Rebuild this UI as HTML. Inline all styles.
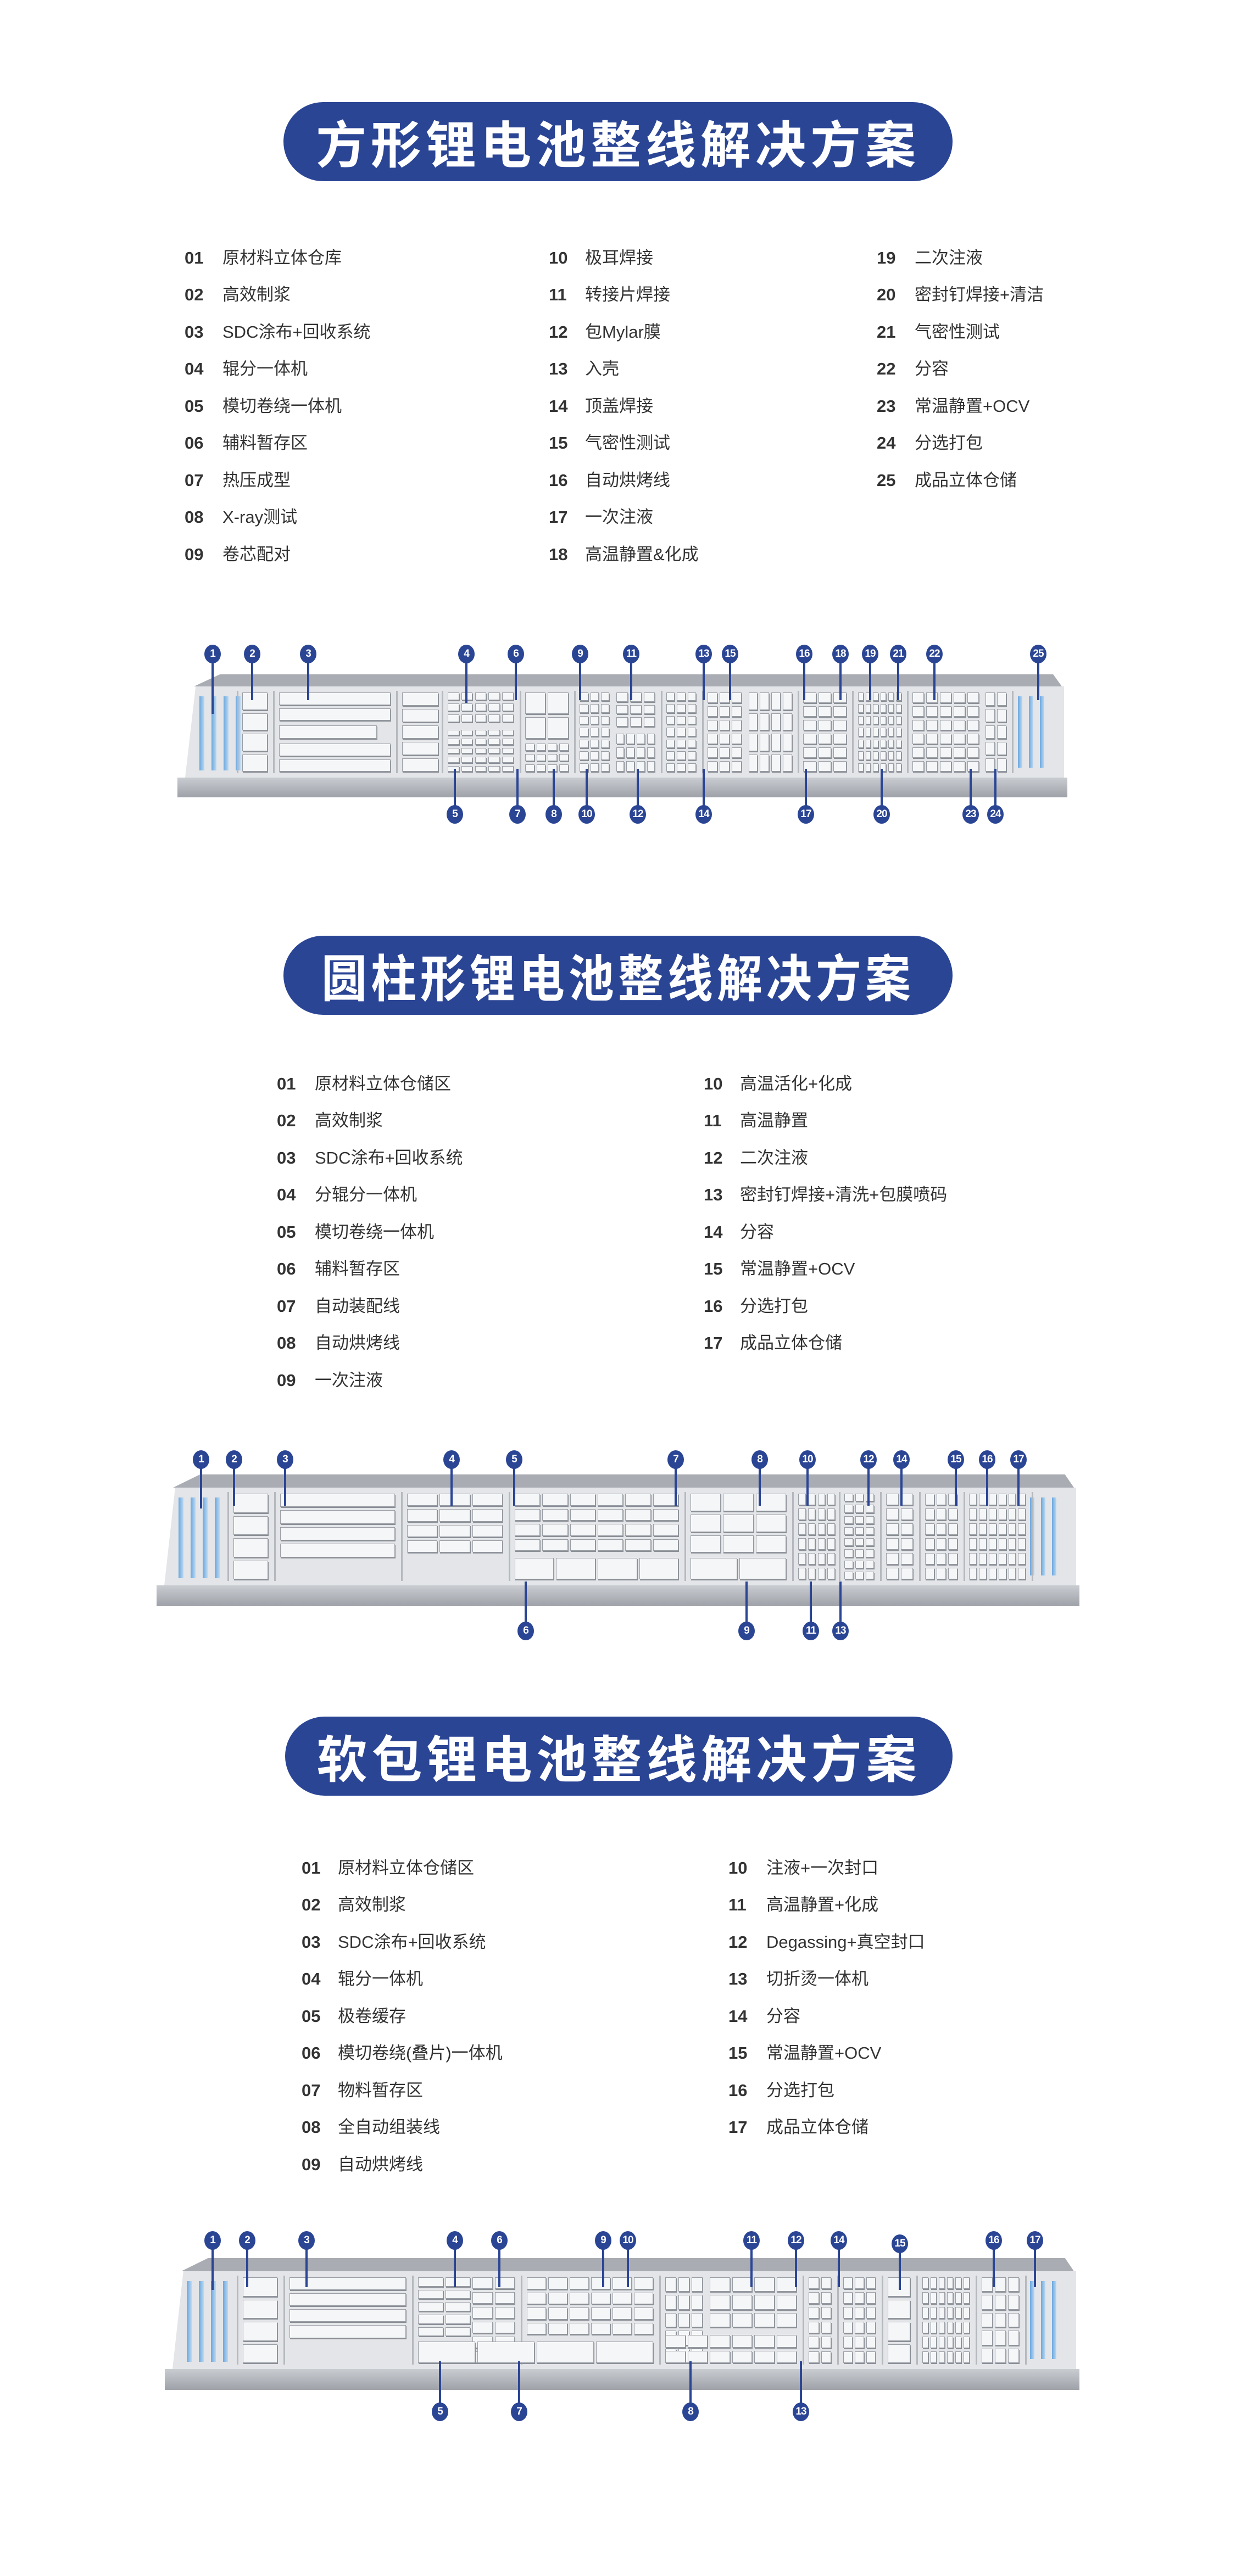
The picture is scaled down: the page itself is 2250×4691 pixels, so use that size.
<!DOCTYPE html>
<html><head><meta charset="utf-8">
<style>
body{margin:0;width:2250px;height:4691px;background:#fff;position:relative;overflow:hidden;font-family:"Liberation Sans","Noto Sans CJK SC",sans-serif}
.pill{position:absolute;background:#2b4595;border-radius:75px;color:#fff;font-weight:bold;font-size:92px;text-align:center;line-height:144px;font-family:"Noto Sans CJK SC",sans-serif}
.pill span{display:inline-block;letter-spacing:8px;white-space:nowrap}
.it{position:absolute;font-size:31px;color:#333;line-height:40px;white-space:nowrap}
.it b{position:absolute;left:0;font-weight:bold;font-family:"Liberation Sans",sans-serif;color:#333}
.it span{position:absolute;white-space:nowrap;font-family:"Liberation Sans","Noto Sans CJK SC",sans-serif}
.plat{position:absolute}
.back{position:absolute;background:#a9adb3}
.floor{position:absolute;background:#e3e5e8}
.lip{position:absolute;background:linear-gradient(#c9ccd1,#9ea2a8)}
.m{position:absolute;width:30px;height:34px;margin-left:-15px;border-radius:50%;background:#2b4595;color:#fff;font-size:19px;font-weight:bold;text-align:center;line-height:34px;z-index:3;font-family:"Liberation Sans",sans-serif;letter-spacing:-1px}
.ln{position:absolute;width:4px;margin-left:-2px;background:#2b4595;z-index:2}
.bx{position:absolute;background:#f5f6f7;border:1px solid #9a9ea5;box-shadow:1px 2px 0 #8a8e95}
.rack{position:absolute;background:linear-gradient(90deg,#6aa7de,#bcd9f2);}
.sep{position:absolute;background:#b5b8bd;width:3px}
</style></head><body>

<div class="pill" style="left:516px;top:186px;width:1218px;height:144px"><span>方形锂电池整线解决方案</span></div>
<div class="pill" style="left:516px;top:1704px;width:1218px;height:144px"><span style="transform:scaleX(0.9)">圆柱形锂电池整线解决方案</span></div>
<div class="pill" style="left:519px;top:3126px;width:1215px;height:144px"><span>软包锂电池整线解决方案</span></div>

<!-- list 1 -->
<div class="it" style="left:336px;top:450px"><b>01</b><span style="left:69px">原材料立体仓库</span></div>
<div class="it" style="left:336px;top:517px"><b>02</b><span style="left:69px">高效制浆</span></div>
<div class="it" style="left:336px;top:585px"><b>03</b><span style="left:69px">SDC涂布+回收系统</span></div>
<div class="it" style="left:336px;top:652px"><b>04</b><span style="left:69px">辊分一体机</span></div>
<div class="it" style="left:336px;top:720px"><b>05</b><span style="left:69px">模切卷绕一体机</span></div>
<div class="it" style="left:336px;top:787px"><b>06</b><span style="left:69px">辅料暂存区</span></div>
<div class="it" style="left:336px;top:855px"><b>07</b><span style="left:69px">热压成型</span></div>
<div class="it" style="left:336px;top:922px"><b>08</b><span style="left:69px">X-ray测试</span></div>
<div class="it" style="left:336px;top:990px"><b>09</b><span style="left:69px">卷芯配对</span></div>

<div class="it" style="left:999px;top:450px"><b>10</b><span style="left:66px">极耳焊接</span></div>
<div class="it" style="left:999px;top:517px"><b>11</b><span style="left:66px">转接片焊接</span></div>
<div class="it" style="left:999px;top:585px"><b>12</b><span style="left:66px">包Mylar膜</span></div>
<div class="it" style="left:999px;top:652px"><b>13</b><span style="left:66px">入壳</span></div>
<div class="it" style="left:999px;top:720px"><b>14</b><span style="left:66px">顶盖焊接</span></div>
<div class="it" style="left:999px;top:787px"><b>15</b><span style="left:66px">气密性测试</span></div>
<div class="it" style="left:999px;top:855px"><b>16</b><span style="left:66px">自动烘烤线</span></div>
<div class="it" style="left:999px;top:922px"><b>17</b><span style="left:66px">一次注液</span></div>
<div class="it" style="left:999px;top:990px"><b>18</b><span style="left:66px">高温静置&amp;化成</span></div>

<div class="it" style="left:1596px;top:450px"><b>19</b><span style="left:69px">二次注液</span></div>
<div class="it" style="left:1596px;top:517px"><b>20</b><span style="left:69px">密封钉焊接+清洁</span></div>
<div class="it" style="left:1596px;top:585px"><b>21</b><span style="left:69px">气密性测试</span></div>
<div class="it" style="left:1596px;top:652px"><b>22</b><span style="left:69px">分容</span></div>
<div class="it" style="left:1596px;top:720px"><b>23</b><span style="left:69px">常温静置+OCV</span></div>
<div class="it" style="left:1596px;top:787px"><b>24</b><span style="left:69px">分选打包</span></div>
<div class="it" style="left:1596px;top:855px"><b>25</b><span style="left:69px">成品立体仓储</span></div>

<!-- list 2 -->
<div class="it" style="left:504px;top:1954px"><b>01</b><span style="left:69px">原材料立体仓储区</span></div>
<div class="it" style="left:504px;top:2021px"><b>02</b><span style="left:69px">高效制浆</span></div>
<div class="it" style="left:504px;top:2089px"><b>03</b><span style="left:69px">SDC涂布+回收系统</span></div>
<div class="it" style="left:504px;top:2156px"><b>04</b><span style="left:69px">分辊分一体机</span></div>
<div class="it" style="left:504px;top:2224px"><b>05</b><span style="left:69px">模切卷绕一体机</span></div>
<div class="it" style="left:504px;top:2291px"><b>06</b><span style="left:69px">辅料暂存区</span></div>
<div class="it" style="left:504px;top:2359px"><b>07</b><span style="left:69px">自动装配线</span></div>
<div class="it" style="left:504px;top:2426px"><b>08</b><span style="left:69px">自动烘烤线</span></div>
<div class="it" style="left:504px;top:2494px"><b>09</b><span style="left:69px">一次注液</span></div>

<div class="it" style="left:1281px;top:1954px"><b>10</b><span style="left:66px">高温活化+化成</span></div>
<div class="it" style="left:1281px;top:2021px"><b>11</b><span style="left:66px">高温静置</span></div>
<div class="it" style="left:1281px;top:2089px"><b>12</b><span style="left:66px">二次注液</span></div>
<div class="it" style="left:1281px;top:2156px"><b>13</b><span style="left:66px">密封钉焊接+清洗+包膜喷码</span></div>
<div class="it" style="left:1281px;top:2224px"><b>14</b><span style="left:66px">分容</span></div>
<div class="it" style="left:1281px;top:2291px"><b>15</b><span style="left:66px">常温静置+OCV</span></div>
<div class="it" style="left:1281px;top:2359px"><b>16</b><span style="left:66px">分选打包</span></div>
<div class="it" style="left:1281px;top:2426px"><b>17</b><span style="left:66px">成品立体仓储</span></div>

<!-- list 3 -->
<div class="it" style="left:549px;top:3382px"><b>01</b><span style="left:66px">原材料立体仓储区</span></div>
<div class="it" style="left:549px;top:3449px"><b>02</b><span style="left:66px">高效制浆</span></div>
<div class="it" style="left:549px;top:3517px"><b>03</b><span style="left:66px">SDC涂布+回收系统</span></div>
<div class="it" style="left:549px;top:3584px"><b>04</b><span style="left:66px">辊分一体机</span></div>
<div class="it" style="left:549px;top:3652px"><b>05</b><span style="left:66px">极卷缓存</span></div>
<div class="it" style="left:549px;top:3719px"><b>06</b><span style="left:66px">模切卷绕(叠片)一体机</span></div>
<div class="it" style="left:549px;top:3787px"><b>07</b><span style="left:66px">物料暂存区</span></div>
<div class="it" style="left:549px;top:3854px"><b>08</b><span style="left:66px">全自动组装线</span></div>
<div class="it" style="left:549px;top:3922px"><b>09</b><span style="left:66px">自动烘烤线</span></div>

<div class="it" style="left:1326px;top:3382px"><b>10</b><span style="left:69px">注液+一次封口</span></div>
<div class="it" style="left:1326px;top:3449px"><b>11</b><span style="left:69px">高温静置+化成</span></div>
<div class="it" style="left:1326px;top:3517px"><b>12</b><span style="left:69px">Degassing+真空封口</span></div>
<div class="it" style="left:1326px;top:3584px"><b>13</b><span style="left:69px">切折烫一体机</span></div>
<div class="it" style="left:1326px;top:3652px"><b>14</b><span style="left:69px">分容</span></div>
<div class="it" style="left:1326px;top:3719px"><b>15</b><span style="left:69px">常温静置+OCV</span></div>
<div class="it" style="left:1326px;top:3787px"><b>16</b><span style="left:69px">分选打包</span></div>
<div class="it" style="left:1326px;top:3854px"><b>17</b><span style="left:69px">成品立体仓储</span></div>

<!-- platforms -->
<div id="p1" class="plat" style="left:323px;top:1228px;width:1620px;height:224px"></div>
<div id="p2" class="plat" style="left:285px;top:2685px;width:1680px;height:240px"></div>
<div id="p3" class="plat" style="left:300px;top:4112px;width:1665px;height:240px"></div>

<!-- markers diagram 1 -->
<div class="m" style="left:387px;top:1174px">1</div><div class="ln" style="left:387px;top:1200px;height:100px"></div>
<div class="m" style="left:459px;top:1174px">2</div><div class="ln" style="left:459px;top:1200px;height:75px"></div>
<div class="m" style="left:561px;top:1174px">3</div><div class="ln" style="left:561px;top:1200px;height:75px"></div>
<div class="m" style="left:849px;top:1174px">4</div><div class="ln" style="left:849px;top:1200px;height:80px"></div>
<div class="m" style="left:939px;top:1174px">6</div><div class="ln" style="left:939px;top:1200px;height:75px"></div>
<div class="m" style="left:1056px;top:1174px">9</div><div class="ln" style="left:1056px;top:1200px;height:75px"></div>
<div class="m" style="left:1149px;top:1174px">11</div><div class="ln" style="left:1149px;top:1200px;height:75px"></div>
<div class="m" style="left:1281px;top:1174px">13</div><div class="ln" style="left:1281px;top:1200px;height:75px"></div>
<div class="m" style="left:1329px;top:1174px">15</div><div class="ln" style="left:1329px;top:1200px;height:75px"></div>
<div class="m" style="left:1464px;top:1174px">16</div><div class="ln" style="left:1464px;top:1200px;height:75px"></div>
<div class="m" style="left:1530px;top:1174px">18</div><div class="ln" style="left:1530px;top:1200px;height:75px"></div>
<div class="m" style="left:1584px;top:1174px">19</div><div class="ln" style="left:1584px;top:1200px;height:75px"></div>
<div class="m" style="left:1635px;top:1174px">21</div><div class="ln" style="left:1635px;top:1200px;height:75px"></div>
<div class="m" style="left:1701px;top:1174px">22</div><div class="ln" style="left:1701px;top:1200px;height:75px"></div>
<div class="m" style="left:1890px;top:1174px">25</div><div class="ln" style="left:1890px;top:1200px;height:75px"></div>

<div class="m" style="left:828px;top:1466px">5</div><div class="ln" style="left:828px;top:1400px;height:70px"></div>
<div class="m" style="left:942px;top:1466px">7</div><div class="ln" style="left:942px;top:1400px;height:70px"></div>
<div class="m" style="left:1008px;top:1466px">8</div><div class="ln" style="left:1008px;top:1400px;height:70px"></div>
<div class="m" style="left:1068px;top:1466px">10</div><div class="ln" style="left:1068px;top:1400px;height:70px"></div>
<div class="m" style="left:1161px;top:1466px">12</div><div class="ln" style="left:1161px;top:1400px;height:70px"></div>
<div class="m" style="left:1281px;top:1466px">14</div><div class="ln" style="left:1281px;top:1400px;height:70px"></div>
<div class="m" style="left:1467px;top:1466px">17</div><div class="ln" style="left:1467px;top:1400px;height:70px"></div>
<div class="m" style="left:1605px;top:1466px">20</div><div class="ln" style="left:1605px;top:1400px;height:70px"></div>
<div class="m" style="left:1767px;top:1466px">23</div><div class="ln" style="left:1767px;top:1400px;height:70px"></div>
<div class="m" style="left:1812px;top:1466px">24</div><div class="ln" style="left:1812px;top:1400px;height:70px"></div>

<!-- markers diagram 2 -->
<div class="m" style="left:366px;top:2641px">1</div><div class="ln" style="left:366px;top:2667px;height:80px"></div>
<div class="m" style="left:426px;top:2641px">2</div><div class="ln" style="left:426px;top:2667px;height:75px"></div>
<div class="m" style="left:519px;top:2641px">3</div><div class="ln" style="left:519px;top:2667px;height:75px"></div>
<div class="m" style="left:822px;top:2641px">4</div><div class="ln" style="left:822px;top:2667px;height:75px"></div>
<div class="m" style="left:936px;top:2641px">5</div><div class="ln" style="left:936px;top:2667px;height:75px"></div>
<div class="m" style="left:1230px;top:2641px">7</div><div class="ln" style="left:1230px;top:2667px;height:75px"></div>
<div class="m" style="left:1383px;top:2641px">8</div><div class="ln" style="left:1383px;top:2667px;height:75px"></div>
<div class="m" style="left:1470px;top:2641px">10</div><div class="ln" style="left:1470px;top:2667px;height:75px"></div>
<div class="m" style="left:1581px;top:2641px">12</div><div class="ln" style="left:1581px;top:2667px;height:75px"></div>
<div class="m" style="left:1641px;top:2641px">14</div><div class="ln" style="left:1641px;top:2667px;height:75px"></div>
<div class="m" style="left:1740px;top:2641px">15</div><div class="ln" style="left:1740px;top:2667px;height:75px"></div>
<div class="m" style="left:1797px;top:2641px">16</div><div class="ln" style="left:1797px;top:2667px;height:75px"></div>
<div class="m" style="left:1854px;top:2641px">17</div><div class="ln" style="left:1854px;top:2667px;height:75px"></div>

<div class="m" style="left:957px;top:2953px">6</div><div class="ln" style="left:957px;top:2880px;height:75px"></div>
<div class="m" style="left:1359px;top:2953px">9</div><div class="ln" style="left:1359px;top:2880px;height:75px"></div>
<div class="m" style="left:1476px;top:2953px">11</div><div class="ln" style="left:1476px;top:2880px;height:75px"></div>
<div class="m" style="left:1530px;top:2953px">13</div><div class="ln" style="left:1530px;top:2880px;height:75px"></div>

<!-- markers diagram 3 -->
<div class="m" style="left:387px;top:4063px">1</div><div class="ln" style="left:387px;top:4090px;height:80px"></div>
<div class="m" style="left:450px;top:4063px">2</div><div class="ln" style="left:450px;top:4090px;height:75px"></div>
<div class="m" style="left:558px;top:4063px">3</div><div class="ln" style="left:558px;top:4090px;height:75px"></div>
<div class="m" style="left:828px;top:4063px">4</div><div class="ln" style="left:828px;top:4090px;height:75px"></div>
<div class="m" style="left:909px;top:4063px">6</div><div class="ln" style="left:909px;top:4090px;height:75px"></div>
<div class="m" style="left:1098px;top:4063px">9</div><div class="ln" style="left:1098px;top:4090px;height:75px"></div>
<div class="m" style="left:1143px;top:4063px">10</div><div class="ln" style="left:1143px;top:4090px;height:75px"></div>
<div class="m" style="left:1368px;top:4063px">11</div><div class="ln" style="left:1368px;top:4090px;height:75px"></div>
<div class="m" style="left:1449px;top:4063px">12</div><div class="ln" style="left:1449px;top:4090px;height:75px"></div>
<div class="m" style="left:1527px;top:4063px">14</div><div class="ln" style="left:1527px;top:4090px;height:75px"></div>
<div class="m" style="left:1638px;top:4069px">15</div><div class="ln" style="left:1638px;top:4095px;height:75px"></div>
<div class="m" style="left:1809px;top:4063px">16</div><div class="ln" style="left:1809px;top:4090px;height:75px"></div>
<div class="m" style="left:1884px;top:4063px">17</div><div class="ln" style="left:1884px;top:4090px;height:75px"></div>

<div class="m" style="left:801px;top:4375px">5</div><div class="ln" style="left:801px;top:4300px;height:80px"></div>
<div class="m" style="left:945px;top:4375px">7</div><div class="ln" style="left:945px;top:4300px;height:80px"></div>
<div class="m" style="left:1257px;top:4375px">8</div><div class="ln" style="left:1257px;top:4300px;height:80px"></div>
<div class="m" style="left:1458px;top:4375px">13</div><div class="ln" style="left:1458px;top:4300px;height:80px"></div>

<script>
function plat(id,k,cfg){
  var p=document.getElementById(id),W=p.offsetWidth,H=p.offsetHeight,h='';
  var lipH=Math.round(H*0.16), floorTop=Math.round(H*0.10);
  h+='<div class="back" style="left:30px;top:0;width:'+(W-40)+'px;height:'+floorTop+'px;clip-path:polygon(0 100%,3% 0,99% 0,100% 100%)"></div>';
  h+='<div class="floor" style="left:14px;top:'+floorTop+'px;width:'+(W-20)+'px;height:'+(H-lipH-floorTop)+'px;clip-path:polygon(1.2% 0,100% 0,100% 100%,0 100%)"></div>';
  h+='<div class="lip" style="left:0;top:'+(H-lipH)+'px;width:'+W+'px;height:'+lipH+'px"></div>';
  var fy=floorTop+8, fh=H-lipH-floorTop-16;
  for(var i=0;i<4;i++) h+='<div class="rack" style="left:'+(40+i*22)+'px;top:'+(fy+10)+'px;width:9px;height:'+(fh-15)+'px"></div>';
  for(var i=0;i<3;i++) h+='<div class="rack" style="left:'+(W-90+i*20)+'px;top:'+(fy+10)+'px;width:8px;height:'+(fh-20)+'px"></div>';
  cfg.seps.forEach(function(x){h+='<div class="sep" style="left:'+(x*k)+'px;top:'+fy+'px;height:'+fh+'px"></div>';});
  cfg.boxes.forEach(function(b){
    var x0=b[0]*k,x1=b[1]*k,cols=b[2],rows=b[3],y0=b[4]||0,y1=b[5]||1;
    var bw=(x1-x0)/cols, bh=fh*(y1-y0)/rows;
    for(var r=0;r<rows;r++)for(var c=0;c<cols;c++)
      h+='<div class="bx" style="left:'+(x0+c*bw+2)+'px;top:'+(fy+fh*y0+r*bh+3)+'px;width:'+Math.max(3,bw-6)+'px;height:'+Math.max(3,bh-8)+'px"></div>';
  });
  p.innerHTML=h;
}
plat('p1',0.83,{seps:[130,210,480,580,750,870,1060,1150,1360,1480,1600,1830],boxes:[
 [140,200,1,4],[220,470,1,2,0,0.38],[220,470,1,2,0.62,1],[220,440,1,1,0.4,0.6],
 [490,575,1,5],[590,740,5,3,0,0.4],[590,740,5,5,0.45,1],
 [760,860,2,2,0,0.6],[760,860,4,3,0.62,1],
 [880,950,3,7],[960,1050,3,3,0,0.45],[960,1050,4,3,0.5,1],
 [1070,1140,3,7],[1160,1240,3,6],[1250,1350,4,4],[1370,1470,3,6],
 [1490,1590,6,7],[1610,1760,5,6],[1770,1820,2,5]]});
plat('p2',0.89,{seps:[145,240,500,720,1080,1300,1395,1480,1560,1650,1790],boxes:[
 [155,230,1,4],[250,490,1,4,0,0.75],
 [510,710,3,4,0,0.7],[730,1070,4,1,0.72,1],[730,1070,6,4,0,0.68],
 [1090,1290,3,3,0,0.7],[1090,1290,2,1,0.72,1],
 [1310,1390,4,6],[1405,1470,3,8],[1490,1550,2,6],[1570,1640,3,6],[1660,1780,6,6]]});
plat('p3',0.9,{seps:[145,240,500,720,1000,1290,1360,1450,1520,1640,1740],boxes:[
 [155,230,1,4],[250,490,1,4,0,0.72],
 [510,620,2,5,0,0.7],[620,710,2,6],[510,990,4,1,0.72,1],[730,990,6,4,0,0.68],
 [1010,1090,3,5],[1100,1280,4,3,0,0.6],[1010,1280,6,2,0.65,1],
 [1300,1350,2,6],[1370,1440,3,6],[1460,1510,1,4],[1530,1630,6,6],[1650,1730,3,5]]});
</script>
</body></html>
